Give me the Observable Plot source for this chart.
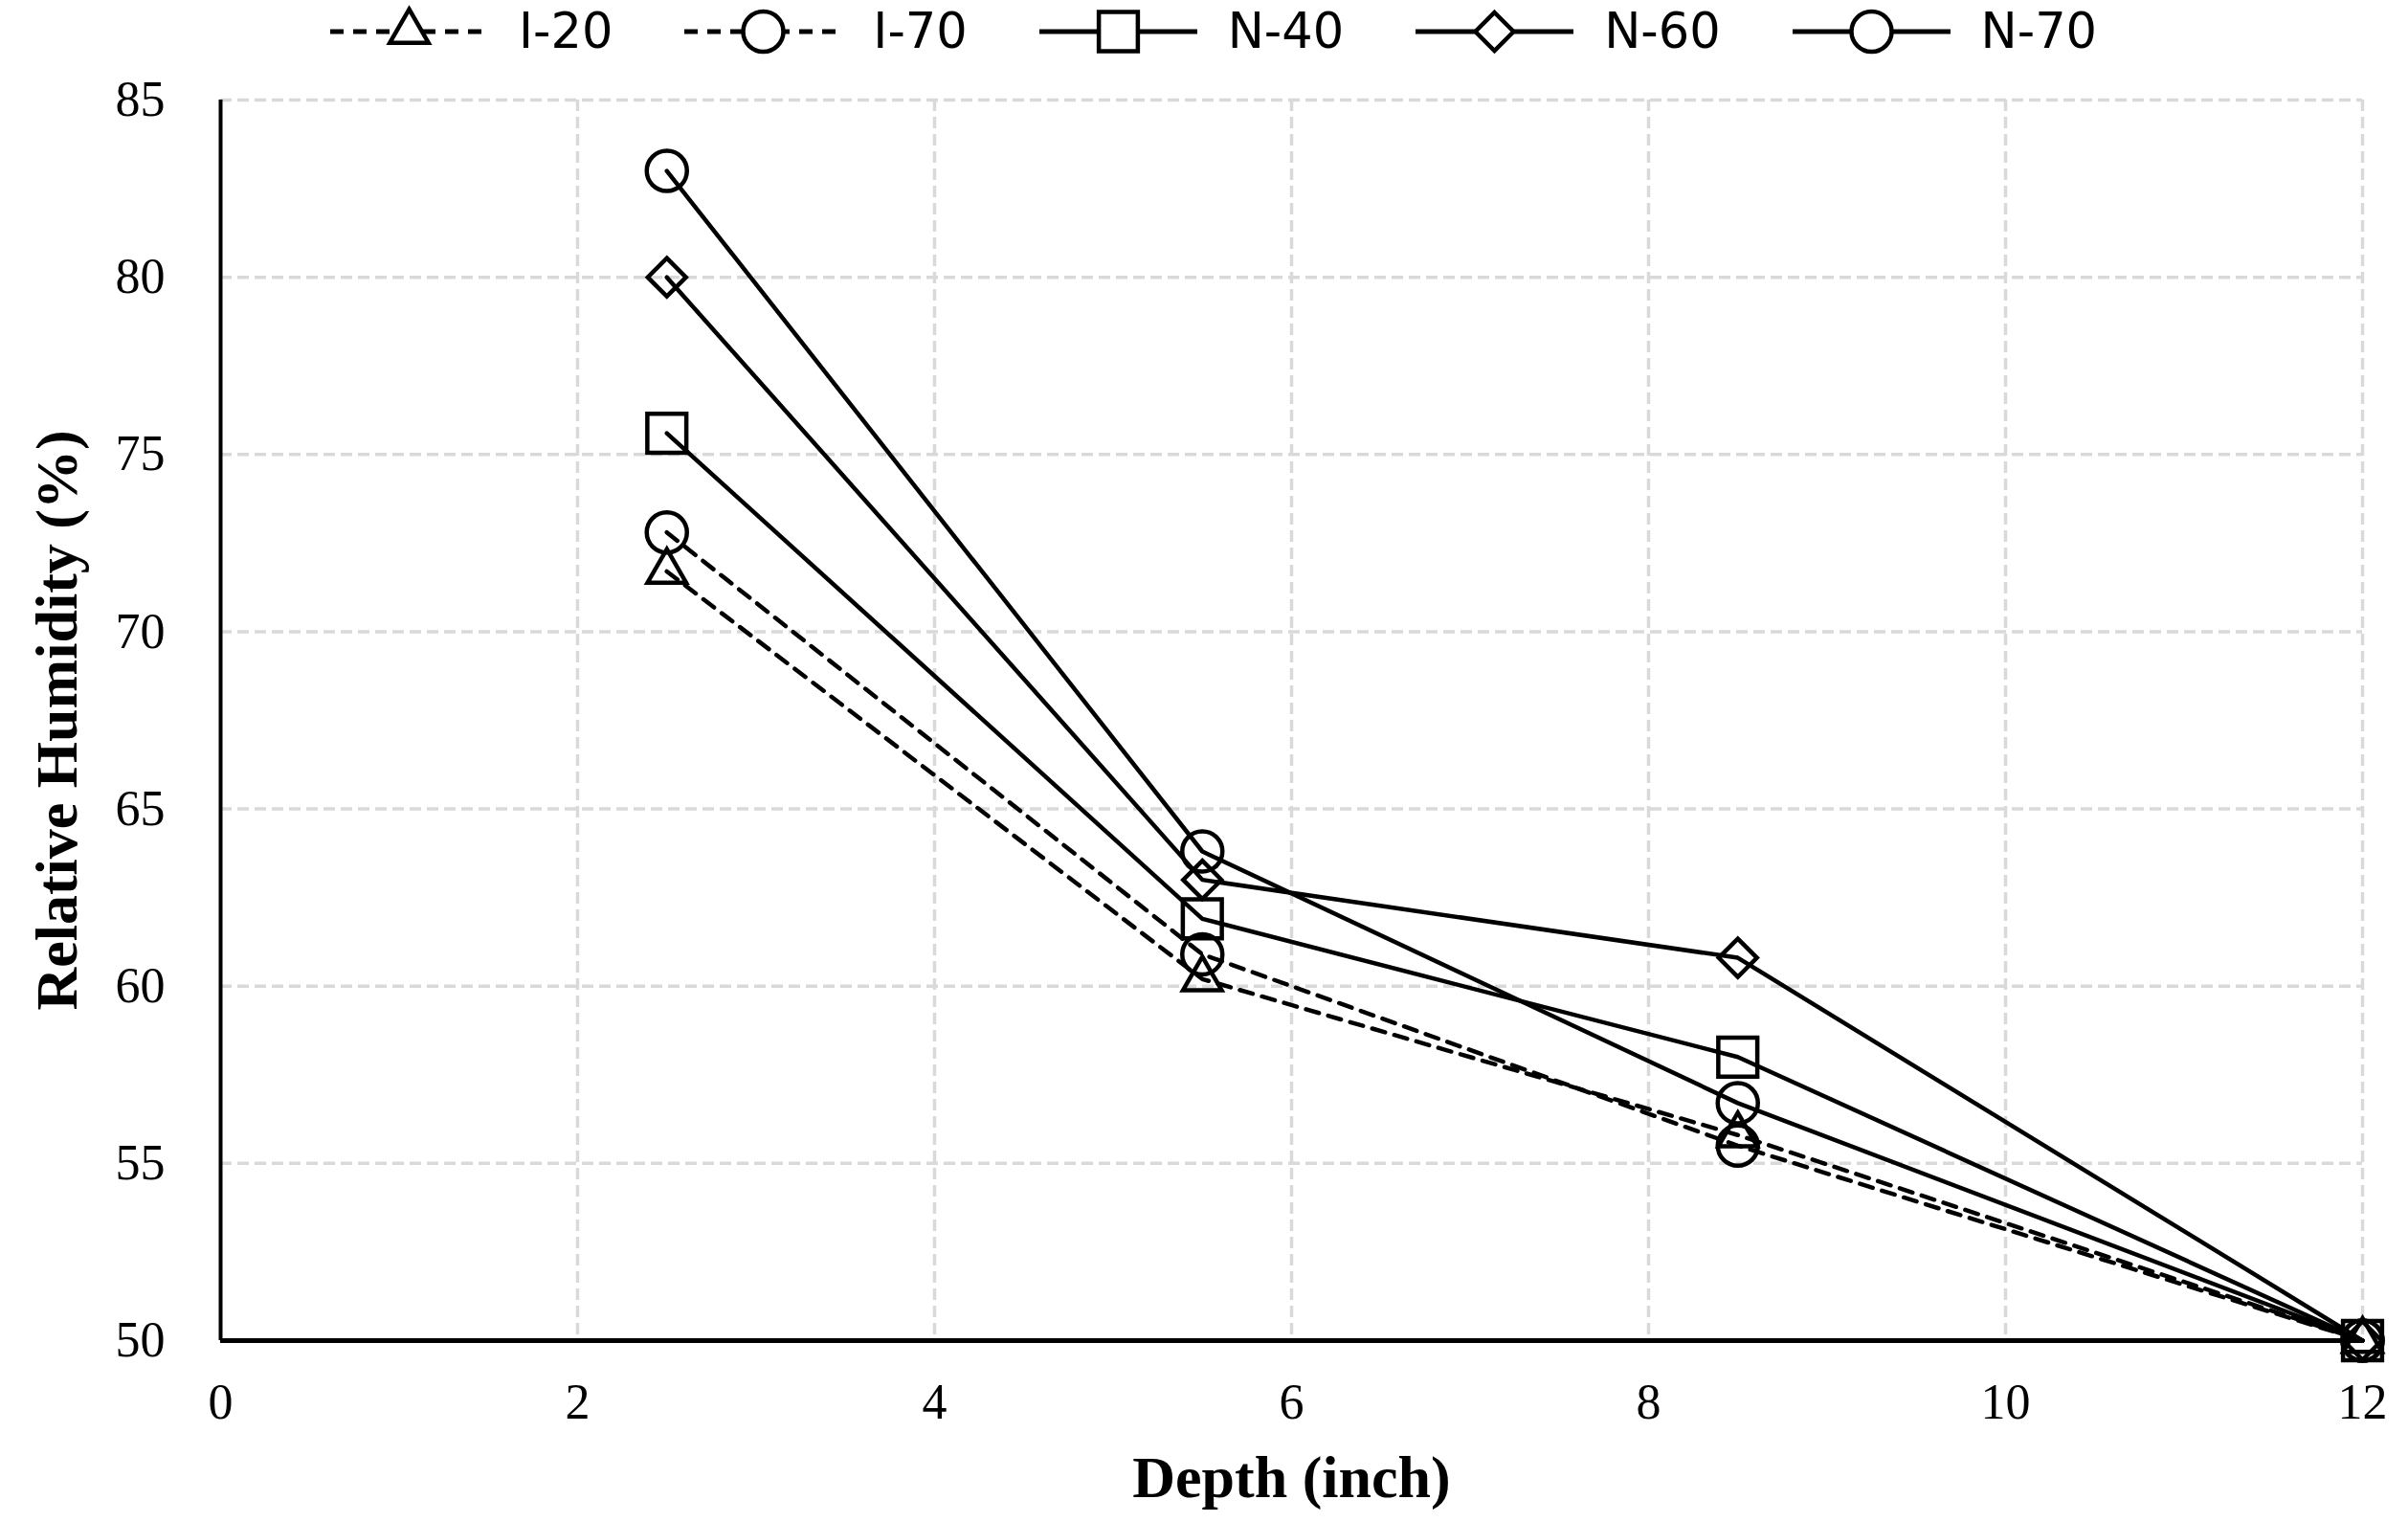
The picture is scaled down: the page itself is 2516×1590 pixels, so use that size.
<!DOCTYPE html>
<html>
<head>
<meta charset="utf-8">
<script src="https://cdn.jsdelivr.net/npm/d3@7"></script>
<script src="https://cdn.jsdelivr.net/npm/@observablehq/plot@0.6"></script>
<style>
  body { margin: 0; background: white; overflow: hidden; }
  #legend {
    display: flex; align-items: center; height: 65px; padding-left: 345px;
    font-family: "DejaVu Sans"; font-size: 51px; color: black;
  }
  .item { display: flex; align-items: center; margin-right: 75px; }
  .item svg { margin-right: 32px; }
  #chart svg [aria-label="x-axis label"],
  #chart svg [aria-label="y-axis label"] {
    font-family: "Liberation Serif"; font-weight: bold; font-size: 62px;
  }
</style>
</head>
<body>
<div id="legend"></div>
<div id="chart"></div>
<script>
// depths where humidity was read
const depth = [2.5, 5.5, 8.5, 12]

// relative humidity (%) per slab
const i20 = [71.7, 60.2, 55.8, 50]
const i70 = [72.8, 60.9, 55.5, 50]
const n40 = [75.6, 61.9, 58.0, 50]
const n60 = [80.0, 63.0, 60.8, 50]
const n70 = [83.0, 63.8, 56.7, 50]

const names = ['I-20', 'I-70', 'N-40', 'N-60', 'N-70']
const values = [i20, i70, n40, n60, n70]

const xTicks = [0, 2, 4, 6, 8, 10, 12]
const yTicks = [50, 55, 60, 65, 70, 75, 80, 85]

// marker + line style per series
const symbols = ['triangle', 'circle', 'square', 'diamond2', 'circle']
const d3Symbols = [d3.symbolTriangle, d3.symbolCircle, d3.symbolSquare, d3.symbolDiamond2, d3.symbolCircle]
const radius = [15, 21, 23, 18, 21]
const dashes = ['14,10', '14,10', null, null, null]

const rows = []
names.forEach((name, i) => {
  depth.forEach((d, j) => {
    rows.push({ serie: name, depth: d, rh: values[i][j] })
  })
})

// legend above the chart
const legend = d3.select('#legend')
names.forEach((name, i) => {
  const item = legend.append('div').attr('class', 'item')
  const sw = item.append('svg').attr('width', 165).attr('height', 60)
  sw.append('line')
    .attr('x1', 0).attr('x2', 165).attr('y1', 30).attr('y2', 30)
    .attr('stroke', 'black').attr('stroke-width', 5)
    .attr('stroke-dasharray', dashes[i])
  sw.append('path')
    .attr('d', d3.symbol(d3Symbols[i], Math.PI * radius[i] * radius[i])())
    .attr('transform', 'translate(82.5,30)')
    .attr('fill', 'white').attr('stroke', 'black').attr('stroke-width', 4.5)
  item.append('span').text(name)
})

const gridStyle = { stroke: '#d9d9d9', strokeOpacity: 1, strokeWidth: 3.5, strokeDasharray: '12,6' }

const marks = [
  Plot.gridX(xTicks.slice(1), gridStyle),
  Plot.gridY(yTicks.slice(1), gridStyle),
  Plot.axisX(xTicks, {
    tickSize: 0, tickPadding: 45, fontSize: 52, tickFormat: d => String(d),
    label: 'Depth (inch)', labelAnchor: 'center', labelOffset: 163, labelArrow: 'none'
  }),
  Plot.axisY(yTicks, {
    tickSize: 0, tickPadding: 58, fontSize: 52, tickFormat: d => String(d),
    label: 'Relative Humidity (%)', labelAnchor: 'center', labelOffset: 195, labelArrow: 'none'
  }),
  Plot.ruleX([0], { stroke: 'black', strokeWidth: 4 }),
  Plot.ruleY([50], { stroke: 'black', strokeWidth: 5 })
]

names.forEach((name, i) => {
  const data = rows.filter(d => d.serie === name)
  marks.push(Plot.line(data, {
    x: 'depth', y: 'rh', stroke: 'black', strokeWidth: 4.5,
    strokeDasharray: dashes[i] || undefined
  }))
  marks.push(Plot.dot(data, {
    x: 'depth', y: 'rh', symbol: symbols[i], r: radius[i],
    fill: 'none', stroke: 'black', strokeWidth: 4.5
  }))
})

const chart = Plot.plot({
  width: 2516,
  height: 1525,
  marginLeft: 230,
  marginRight: 48,
  marginTop: 39,
  marginBottom: 190,
  x: { domain: [0, 12] },
  y: { domain: [50, 85] },
  style: { fontFamily: 'Liberation Serif', color: 'black', background: 'white' },
  marks: marks
})

d3.select('#chart').append(() => chart)
</script>
</body>
</html>
